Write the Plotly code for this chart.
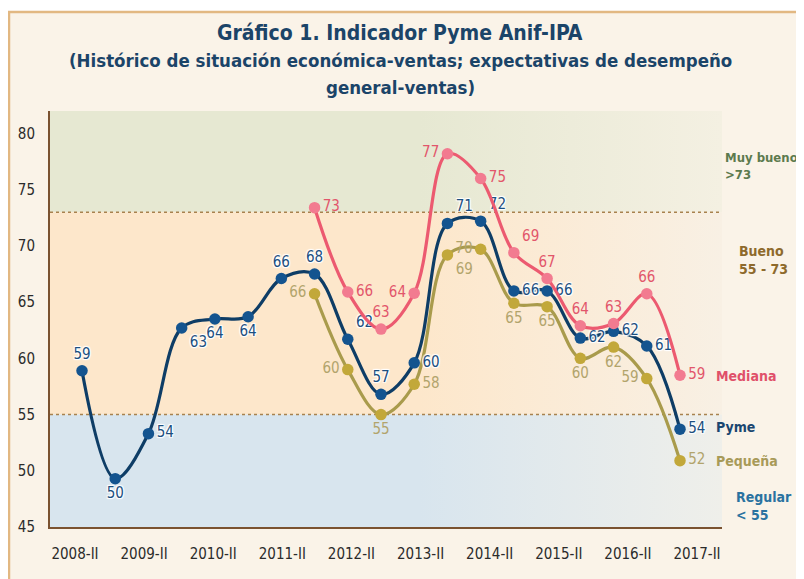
import numpy as np
import plotly.graph_objects as go

# ---------------- data ----------------
periods = ["2008-II", "2009-I", "2009-II", "2010-I", "2010-II", "2011-I", "2011-II",
           "2012-I", "2012-II", "2013-I", "2013-II", "2014-I", "2014-II", "2015-I",
           "2015-II", "2016-I", "2016-II", "2017-I", "2017-II"]

pyme = [58.9, 49.3, 53.3, 62.7, 63.5, 63.7, 67.1, 67.5, 61.7, 56.8, 59.6, 72.0,
        72.2, 66.0, 66.0, 61.8, 62.4, 61.1, 53.7]
pyme_labels = ["59", "50", "54", "63", "64", "64", "66", "68", "62", "57", "60", "71",
               "72", "66", "66", "62", "62", "61", "54"]

mediana = [None] * 7 + [73.4, 65.9, 62.6, 65.8, 78.2, 76.0, 69.4, 67.1, 62.9, 63.1, 65.75, 58.5]
mediana_labels = [""] * 7 + ["73", "66", "63", "64", "77", "75", "69", "67", "64", "63", "66", "59"]

pequena = [None] * 7 + [65.75, 59.0, 55.0, 57.7, 69.2, 69.7, 64.9, 64.6, 60.0, 61.0, 58.2, 50.9]
pequena_labels = [""] * 7 + ["66", "60", "55", "58", "69", "70", "65", "65", "60", "62", "59", "52"]

year_ticks = ["2008-II", "2009-II", "2010-II", "2011-II", "2012-II", "2013-II",
              "2014-II", "2015-II", "2016-II", "2017-II"]

band_low, band_high = 55, 73
y_min, y_max = 45, 82

# ---------------- geometry helpers ----------------
# page has an 8px body margin: figure is drawn from (8, 8) inside the 804x579 window
OFF = 8
W, H = 804 - OFF, 579 - OFF
L, R, T, B = 50 - OFF, 722 - OFF, 111 - OFF, 527 - OFF   # plot area in figure pixels
x = np.arange(len(periods))
first_px, last_px = 82 - OFF, 680 - OFF
scale = (last_px - first_px) / (len(periods) - 1)
x_min = -(first_px - L) / scale
x_max = (len(periods) - 1) + (R - last_px) / scale


def px_x(page_px):
    return (page_px - OFF - L) / (R - L)


def px_y(page_py):
    return (B - (page_py - OFF)) / (B - T)


def data_x_from_px(page_px):
    return x_min + px_x(page_px) * (x_max - x_min)


tick_pos = [data_x_from_px(p) for p in np.linspace(75, 697, len(year_ticks))]

FONT = "DejaVu Sans Condensed, DejaVu Sans, sans-serif"
CREAM = "#FAF3E8"

fig = go.Figure()

# background bands with horizontal gradient fading to cream
bands = [
    (band_high, y_max, "#E6E8D2", "#F4F0E2"),
    (band_low, band_high, "#FDE7CB", "#F8F0E4"),
    (y_min, band_low, "#D8E5EE", "#EFEFEA"),
]
for lo, hi, c0, c1 in bands:
    fig.add_trace(go.Scatter(
        x=[x_min, x_max, x_max, x_min, x_min], y=[lo, lo, hi, hi, lo],
        mode="lines", line=dict(width=0), fill="toself",
        fillgradient=dict(type="horizontal",
                          colorscale=[[0, c0], [0.55, c0], [1, c1]]),
        hoverinfo="skip", showlegend=False))

# dotted threshold lines
for v in (band_high, band_low):
    fig.add_trace(go.Scatter(
        x=[x_min, x_max], y=[v, v], mode="lines",
        line=dict(color="#A8824E", width=1.6, dash="dot"),
        hoverinfo="skip", showlegend=False))

pyme_pos = ["top center", "bottom center", "middle right", "bottom right", "bottom center",
            "bottom center", "top center", "top center", "top right", "top center",
            "middle right", "top right", "top right", "middle right", "middle right",
            "middle right", "middle right", "middle right", "middle right"]
med_pos = ["top center"] * 7 + ["middle right", "middle right", "top center", "middle left",
                                "middle left", "middle right", "top right", "top center",
                                "top center", "top center", "top center", "middle right"]
peq_pos = ["top center"] * 7 + ["middle left", "middle left", "bottom center", "middle right",
                                "bottom right", "middle left", "bottom center", "bottom center",
                                "bottom center", "bottom center", "middle left", "middle right"]

series = [
    (pequena, pequena_labels, peq_pos, "#A99B4C", "#C2A83A", "#B2A46C", None),
    (pyme, pyme_labels, pyme_pos, "#0E3D66", "#14548F", "#1C4F80",
     "1px 1px 1px #fff, -1px -1px 1px #fff, 1px -1px 1px #fff, -1px 1px 1px #fff"),
    (mediana, mediana_labels, med_pos, "#EC5A70", "#F27B90", "#E2566B", None),
]
for ys, labels, pos, lc, mc, tc, shadow in series:
    tf = dict(family=FONT, size=15, color=tc)
    if shadow:
        tf["shadow"] = shadow
    fig.add_trace(go.Scatter(
        x=x, y=ys, mode="lines+markers+text",
        line=dict(color=lc, width=3.2, shape="spline", smoothing=1.0),
        marker=dict(size=11.5, color=mc, line=dict(width=0)),
        text=labels, textposition=pos, textfont=tf,
        connectgaps=False, hoverinfo="skip", showlegend=False))

# ---------------- annotations (positions given in page pixels) ----------------
ann = []
title_lines = [
    ("Gráfico 1. Indicador Pyme Anif-IPA", 21, 33),
    ("(Histórico de situación económica-ventas; expectativas de desempeño", 18.5, 60),
    ("general-ventas)", 18.5, 87),
]
for txt, sz, py in title_lines:
    ann.append(dict(text="<b>" + txt + "</b>", x=px_x(400), y=px_y(py), xref="paper", yref="paper",
                    xanchor="center", yanchor="middle", showarrow=False,
                    font=dict(family=FONT, size=sz, color="#1B4468")))

side = [
    ("<b>Muy bueno<br>&gt;73</b>", 723, 166, "#5C7A4E", 13),
    ("<b>Bueno<br>55 - 73</b>", 737, 260, "#8E6A2C", 14),
    ("<b>Mediana</b>", 714, 376, "#E0506A", 14),
    ("<b>Pyme</b>", 714, 427, "#1A4670", 14),
    ("<b>Pequeña</b>", 714, 461, "#A89A58", 14),
    ("<b>Regular<br>&lt; 55</b>", 734, 506, "#2A72A0", 14),
]
for txt, px, py, col, sz in side:
    ann.append(dict(text=txt, x=px_x(px), y=px_y(py), xref="paper", yref="paper",
                    xanchor="left", yanchor="middle", align="left", showarrow=False,
                    font=dict(family=FONT, size=sz, color=col)))

shapes = [dict(type="rect", xref="paper", yref="paper", layer="below",
               x0=px_x(9), x1=px_x(830), y0=px_y(600), y1=px_y(12),
               fillcolor=CREAM, line=dict(color="#E2B882", width=2.5))]

fig.update_layout(
    width=W, height=H, autosize=False,
    margin=dict(l=L, r=W - R, t=T, b=H - B, pad=0, autoexpand=False),
    paper_bgcolor="#FFFFFF", plot_bgcolor="rgba(0,0,0,0)",
    annotations=ann, shapes=shapes, showlegend=False,
    xaxis=dict(range=[x_min, x_max], showgrid=False, zeroline=False, automargin=False,
               showline=True, linecolor="#7A5230", linewidth=2,
               tickvals=tick_pos, ticktext=year_ticks, ticks="outside", ticklen=12,
               tickcolor="rgba(0,0,0,0)",
               tickfont=dict(family=FONT, size=15, color="#2B2B2B")),
    yaxis=dict(range=[y_min, y_max], showgrid=False, zeroline=False, automargin=False,
               showline=True, linecolor="#7A5230", linewidth=2,
               tickvals=list(range(45, 81, 5)), ticks="outside", ticklen=10,
               tickcolor="rgba(0,0,0,0)",
               tickfont=dict(family=FONT, size=15, color="#2B2B2B")),
)

fig.write_html("out.html")
